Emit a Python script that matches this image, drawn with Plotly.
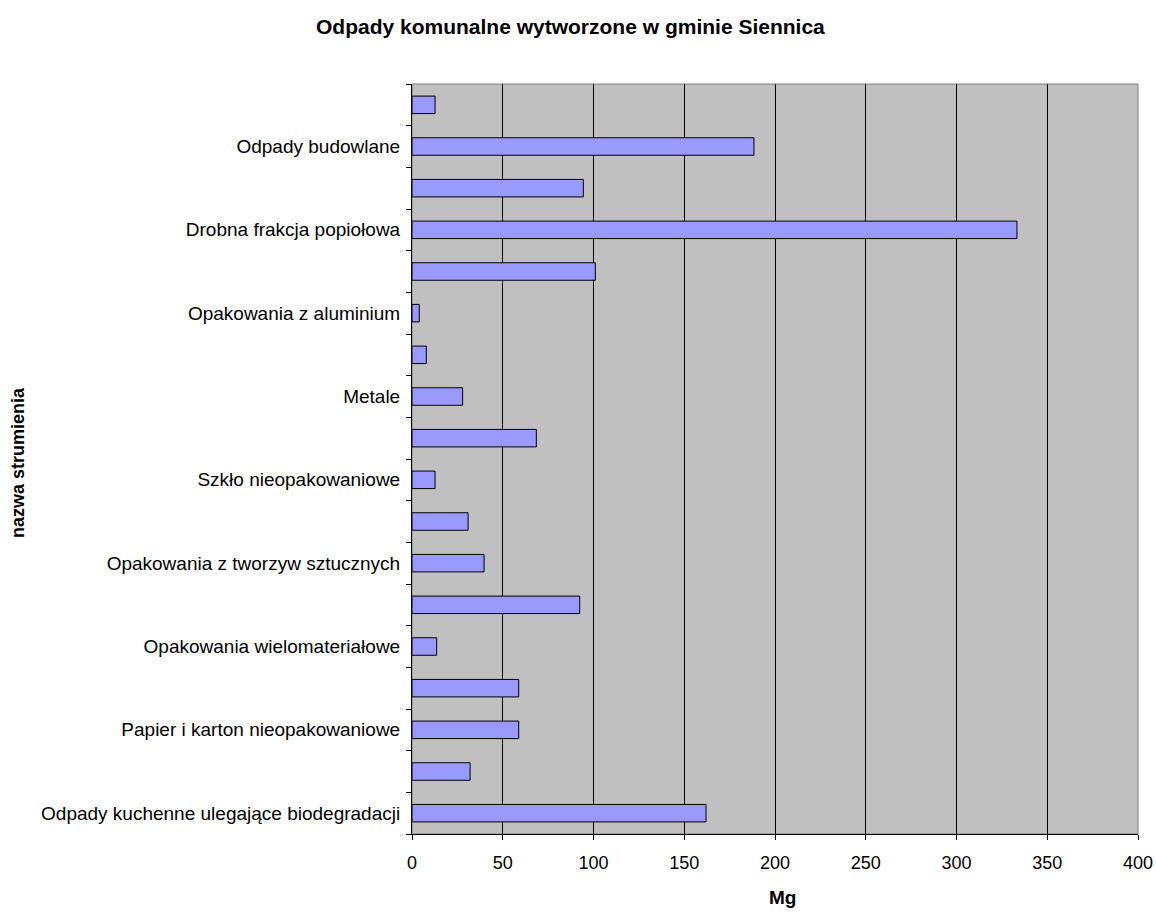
import plotly.graph_objects as go

# categories from bottom to top
categories = [
    "Odpady kuchenne ulegające biodegradacji",
    "Odpady zielone",
    "Papier i karton nieopakowaniowe",
    "Opakowania z papieru i tektury",
    "Opakowania wielomateriałowe",
    "Tworzywa sztuczne nieopakowaniowe",
    "Opakowania z tworzyw sztucznych",
    "Opakowania ze szkła",
    "Szkło nieopakowaniowe",
    "Tekstylia",
    "Metale",
    "Opakowania z blachy stalowej",
    "Opakowania z aluminium",
    "Odpady mineralne",
    "Drobna frakcja popiołowa",
    "Odpady wielkogabarytowe",
    "Odpady budowlane",
    "Odpady niebezpieczne",
]
values = [162, 32, 58.8, 58.8, 13.6, 92.4, 39.7, 30.9, 12.7, 68.5,
          27.9, 7.9, 4.0, 101, 333.3, 94.4, 188.4, 12.7]
# only every other category label is displayed in the original
tick_labels = [c if i % 2 == 0 else "" for i, c in enumerate(categories)]
x_ticks = [0, 50, 100, 150, 200, 250, 300, 350, 400]

FONT = "Liberation Sans, Arial, sans-serif"

# page coordinates of the plot area
PL, PR, PT, PB = 412, 1138, 84, 834
W, H = 1156, 920

fig = go.Figure(go.Bar(
    y=categories, x=values, orientation="h",
    marker=dict(color="#9999FF", line=dict(color="#000000", width=1)),
))

fig.update_layout(
    width=W, height=H,
    margin=dict(l=PL, r=W - PR, t=PT, b=H - PB, pad=0, autoexpand=False),
    paper_bgcolor="white", plot_bgcolor="#C0C0C0",
    bargap=0.58, showlegend=False,
    font=dict(family=FONT, size=18, color="black"),
    xaxis=dict(range=[0, 400], tickvals=x_ticks, showgrid=True,
               gridcolor="black", gridwidth=1, zeroline=False,
               showline=True, linecolor="black", linewidth=1,
               ticks="outside", ticklen=5, tickcolor="black",
               ticklabelstandoff=7, ticklabeloverflow="allow", automargin=False,
               tickfont=dict(size=18), fixedrange=True),
    yaxis=dict(type="category", categoryorder="array", categoryarray=categories,
               tickvals=categories, ticktext=tick_labels,
               tickson="boundaries", ticks="outside", ticklen=5, tickcolor="black",
               ticklabelstandoff=7, automargin=False,
               showline=True, linecolor="black", linewidth=1,
               showgrid=False, tickfont=dict(size=19), fixedrange=True),
    annotations=[
        dict(text="<b>Odpady komunalne wytworzone w gminie Siennica</b>",
             xref="paper", yref="paper",
             x=(570 - PL) / (PR - PL), y=1 + (PT - 27) / (PB - PT),
             xanchor="center", yanchor="middle", showarrow=False,
             font=dict(size=21)),
        dict(text="<b>Mg</b>", xref="paper", yref="paper",
             x=(782 - PL) / (PR - PL), y=-(897 - PB) / (PB - PT),
             xanchor="center", yanchor="middle", showarrow=False,
             font=dict(size=19)),
        dict(text="<b>nazwa strumienia</b>", xref="paper", yref="paper",
             x=-(PL - 18) / (PR - PL), y=(PB - 462) / (PB - PT), textangle=-90,
             xanchor="center", yanchor="middle", showarrow=False,
             font=dict(size=18)),
    ],
    shapes=[dict(type="rect", xref="paper", yref="paper", x0=0, x1=1, y0=0, y1=1,
                 line=dict(color="#808080", width=1), layer="below")],
)

fig.write_html("out.html", config={"displayModeBar": False},
               post_script="document.body.style.margin='0';document.body.style.overflow='hidden';")
